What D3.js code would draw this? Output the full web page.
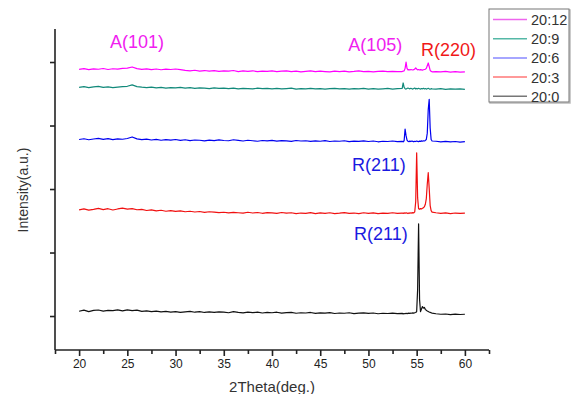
<!DOCTYPE html>
<html lang="en">
<head>
<meta charset="UTF-8">
<title>XRD</title>
<script src="https://cdn.jsdelivr.net/npm/d3@7"></script>
<style>
  body { margin:0; background:#fff; }
  svg { width:576px; height:394px; display:block; font-family:Arial, "Liberation Sans", sans-serif; }
</style>
</head>
<body>
<svg></svg>
<script>
// 2theta grid (coarse away from the peaks, fine around 53.5-56.6)
var theta = [20,20.5,21,21.5,22,22.5,23,23.5,24,24.5,25,25.5,26,26.5,27,27.5,28,28.5,29,29.5,
  30,30.5,31,31.5,32,32.5,33,33.5,34,34.5,35,35.5,36,36.5,37,37.5,38,38.5,39,39.5,
  40,40.5,41,41.5,42,42.5,43,43.5,44,44.5,45,45.5,46,46.5,47,47.5,48,48.5,49,49.5,
  50,50.5,51,51.5,52,52.5,53,
  53.5,53.6,53.7,53.8,53.9,54,54.1,54.2,54.3,54.4,54.5,54.6,54.7,54.8,54.9,55,55.1,55.2,55.3,55.4,
  55.5,55.6,55.7,55.8,55.9,56,56.1,56.2,56.3,56.4,56.5,56.6,
  57,57.5,58,58.5,59,59.5,60];

// intensity (stacked, a.u.)
var s20_0 = [75,92,70,88,95,78,90,84,96,80, 98,86,92,74,80,70,78,66,72,62,
  70,58,66,74,60,68,56,64,58,66, 60,52,70,58,50,62,54,60,48,56,
  52,60,46,54,58,44,52,48,56,42, 50,46,54,40,48,44,52,38,46,50,
  42,48,36,44,40,46,38,
  42,34,40,36,44,38,42,46,40,48,44,50,46,52,56,70,420,1450,260,70,
  110,150,125,135,105,90,80,72,64,58,52,46,
  36,28,32,22,30,24,28];
var s20_3 = [1672,1688,1668,1680,1694,1676,1690,1670,1686,1698, 1684,1692,1674,1680,1662,1672,1656,1666,1650,1660,
  1648,1656,1642,1650,1638,1646,1632,1642,1636,1628, 1634,1624,1632,1626,1620,1634,1622,1630,1618,1628,
  1624,1616,1630,1620,1626,1614,1622,1618,1628,1612, 1624,1618,1626,1614,1620,1628,1616,1622,1612,1626,
  1618,1624,1614,1620,1616,1626,1618,
  1622,1616,1624,1618,1626,1620,1614,1624,1618,1626,1620,1628,1624,1640,1800,2570,1860,1690,1680,1692,
  1686,1696,1704,1722,1760,1850,2080,2257,2010,1740,1660,1636,
  1626,1618,1624,1614,1622,1616,1620];
var s20_6 = [2780,2792,2776,2788,2798,2782,2794,2778,2790,2784, 2796,2820,2790,2778,2786,2772,2782,2768,2778,2770,
  2780,2766,2776,2762,2772,2768,2758,2770,2762,2774, 2764,2760,2776,2766,2756,2768,2760,2752,2764,2758,
  2766,2754,2762,2758,2750,2764,2756,2760,2750,2758, 2752,2762,2748,2756,2752,2760,2746,2754,2750,2758,
  2748,2756,2744,2752,2748,2756,2746,
  2750,2744,2760,2945,2840,2770,2752,2746,2754,2748,2756,2750,2744,2752,2748,2756,2750,2746,2754,2750,
  2758,2752,2760,2756,2766,2780,2880,3250,3413,2960,2780,2756,
  2752,2744,2750,2742,2748,2740,2746];
var s20_9 = [3600,3612,3596,3608,3616,3602,3610,3598,3606,3614, 3618,3640,3612,3604,3598,3606,3594,3602,3590,3598,
  3592,3600,3588,3596,3584,3594,3588,3580,3592,3584, 3590,3582,3588,3578,3586,3582,3576,3588,3580,3586,
  3578,3584,3576,3582,3588,3574,3582,3578,3586,3576, 3582,3574,3580,3586,3576,3582,3572,3580,3576,3584,
  3574,3580,3572,3578,3584,3574,3580,
  3586,3670,3600,3580,3574,3582,3590,3584,3578,3586,3580,3574,3582,3590,3576,3584,3578,3586,3580,3574,
  3582,3578,3586,3576,3582,3574,3580,3586,3578,3572,3580,3576,
  3574,3580,3570,3578,3572,3576,3570];
var s20_12 = [3884,3896,3880,3892,3886,3898,3882,3894,3888,3900, 3904,3922,3896,3884,3892,3880,3890,3878,3888,3882,
  3890,3880,3868,3860,3870,3858,3866,3856,3864,3852, 3862,3856,3866,3850,3860,3854,3862,3848,3858,3852,
  3860,3848,3856,3862,3850,3858,3846,3854,3860,3848, 3856,3850,3844,3856,3850,3858,3846,3852,3860,3848,
  3854,3846,3852,3858,3848,3854,3850,
  3850,3856,3860,3900,4000,3900,3876,3880,3874,3882,3878,3874,3880,3890,3906,3890,3876,3882,3874,3880,
  3876,3872,3878,3882,3886,3900,3940,3985,3930,3870,3852,3846,
  3850,3844,3852,3842,3848,3840,3846];

var seriesNames = ["20:12","20:9","20:6","20:3","20:0"];
var seriesValues = [s20_12, s20_9, s20_6, s20_3, s20_0];
var lineColors = ["#ff00ff","#11897a","#0000f0","#f01010","#111111"];
var legendColors = ["#ee66ee","#55b8a6","#8888ff","#ff7777","#777777"];

var xTicks = [20,25,30,35,40,45,50,55,60];
var xMinorTicks = [17.5,22.5,27.5,32.5,37.5,42.5,47.5,52.5,57.5,62.5];
var yTicks = [0,1000,2000,3000,4000];

// peak labels: text, 2theta, intensity
var peakLabels = [
  ["A(101)", 23.2, 4220, "#f020f0"],
  ["A(105)", 47.9, 4174, "#f020f0"],
  ["R(220)", 55.45, 4095, "#f01818"],
  ["R(211)", 48.3, 2284, "#1a1ae0"],
  ["R(211)", 48.5, 1197, "#1a1ae0"]
];

var svg = d3.select("svg");

var x = d3.scaleLinear().domain([17.5, 62.5]).range([55, 489]);
var y = d3.scaleLinear().domain([-535, 4520]).range([350, 29]);

// axes
var xAxis = d3.axisBottom(x).tickValues(xTicks).tickSize(6).tickPadding(3).tickFormat(d3.format("d"));
var gx = svg.append("g").attr("transform", "translate(0,350)").call(xAxis);
svg.append("g").attr("transform", "translate(0,350)")
  .call(d3.axisBottom(x).tickValues(xMinorTicks).tickSize(4).tickFormat(""))
  .select(".domain").remove();
gx.select(".domain").attr("d", "M" + x(17.5) + ",0H" + x(62.5));

var gy = svg.append("g").attr("transform", "translate(55,0)")
  .call(d3.axisLeft(y).tickValues(yTicks).tickSize(5).tickFormat(""));
gy.select(".domain").attr("d", "M0," + y(4520) + "V" + y(-535));

svg.selectAll(".domain, .tick line").attr("stroke", "#222").attr("stroke-width", 1.6);
gx.selectAll(".tick text").attr("font-size", "12px").attr("fill", "#222")
  .attr("font-family", "Arial, 'Liberation Sans', sans-serif");

// axis titles
svg.append("text").attr("x", 272).attr("y", 392).attr("text-anchor", "middle")
  .attr("font-size", "15px").attr("fill", "#333").text("2Theta(deg.)");
svg.append("text").attr("transform", "translate(28,190) rotate(-90)").attr("text-anchor", "middle")
  .attr("font-size", "14px").attr("fill", "#333").text("Intensity(a.u.)");

// patterns
var line = d3.line()
  .x(function(d, i) { return x(theta[i]); })
  .y(function(d) { return y(d); });

svg.append("g").selectAll("path")
  .data(seriesValues)
  .enter()
  .append("path")
  .attr("d", line)
  .attr("fill", "none")
  .attr("stroke", function(d, i) { return lineColors[i]; })
  .attr("stroke-width", 1.2)
  .attr("stroke-linejoin", "round");

// peak labels
svg.append("g").selectAll("text")
  .data(peakLabels)
  .enter()
  .append("text")
  .attr("x", function(d) { return x(d[1]); })
  .attr("y", function(d) { return y(d[2]); })
  .attr("font-size", "18px")
  .attr("fill", function(d) { return d[3]; })
  .text(function(d) { return d[0]; });

// legend
var legend = svg.append("g").attr("transform", "translate(489,9)");
legend.append("rect").attr("x", 1).attr("y", 1).attr("width", 80).attr("height", 93)
  .attr("fill", "none").attr("stroke", "#bbb").attr("stroke-width", 1.5);
legend.append("rect").attr("width", 80).attr("height", 93)
  .attr("fill", "#fff").attr("stroke", "#777").attr("stroke-width", 1);
var items = legend.selectAll(".item")
  .data(seriesNames)
  .enter()
  .append("g")
  .attr("class", "item")
  .attr("transform", function(d, i) { return "translate(0," + (10.5 + i * 19.2) + ")"; });
items.append("line").attr("x1", 4).attr("x2", 38).attr("y1", 0).attr("y2", 0)
  .attr("stroke", function(d, i) { return legendColors[i]; }).attr("stroke-width", 1.5);
items.append("text").attr("x", 42).attr("y", 5.5).attr("font-size", "14.5px").attr("fill", "#333")
  .text(function(d) { return d; });
</script>
</body>
</html>
